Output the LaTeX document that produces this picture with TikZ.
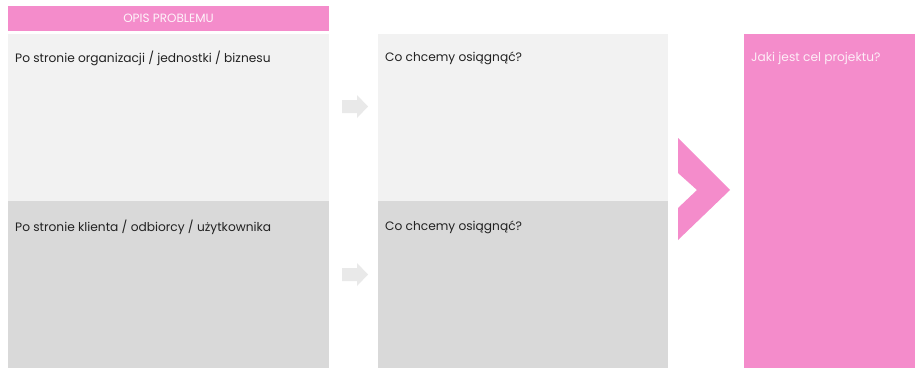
\documentclass[tikz,border=0pt]{standalone}
\usepackage{fontspec}
\setmainfont{Poppins}
\definecolor{pinkc}{HTML}{F48CCB}
\definecolor{lightc}{HTML}{F2F2F2}
\definecolor{darkc}{HTML}{D9D9D9}
\definecolor{arrowc}{HTML}{E9E9E9}
\definecolor{textc}{HTML}{222222}
\begin{document}
\begin{tikzpicture}[x=1pt,y=-1pt,
  label/.style={anchor=west,inner sep=0,font=\fontsize{12.2}{14}\selectfont,text=textc},
  wlabel/.style={anchor=west,inner sep=0,font=\fontsize{12.2}{14}\selectfont,text=white!85!pinkc},
  smallarrow/.style={fill=arrowc,draw=none}]
\useasboundingbox (0,0) rectangle (915,368);
\fill[white] (0,0) rectangle (915,368);
% header
\fill[pinkc] (8,6) rectangle (329,31);
\node[inner sep=0,font=\fontsize{12}{14}\selectfont,text=white!90!pinkc] (hdr) at (168.5,18.5) {OPIS PROBLEMU};
% left boxes
\fill[lightc] (8,34) rectangle (329,201);
\fill[darkc] (8,201) rectangle (329,368);
% middle boxes
\fill[lightc] (378,34) rectangle (668,201);
\fill[darkc] (378,201) rectangle (668,368);
% right box
\fill[pinkc] (744,34) rectangle (915,368);
% texts
\node[label] (t1) at (15,58) {Po stronie organizacji / jednostki / biznesu};
\node[label] (t2) at (385,58) {Co chcemy osiągnąć?};
\node[label] (t3) at (15,227) {Po stronie klienta / odbiorcy / użytkownika};
\node[label] (t4) at (385,227) {Co chcemy osiągnąć?};
\node[wlabel] (t5) at (751,58) {Jaki jest cel projektu?};
% small arrows
\fill[smallarrow] (342,100) -- (357,100) -- (357,95) -- (368,106.5) -- (357,118) -- (357,113) -- (342,113) -- cycle;
\fill[smallarrow] (342,268) -- (357,268) -- (357,263) -- (368,274.5) -- (357,286) -- (357,281) -- (342,281) -- cycle;
% chevron
\fill[pinkc] (678,138) -- (730,190) -- (678,240) -- (678,208) -- (697,190) -- (678,173) -- cycle;
\end{tikzpicture}
\end{document}
